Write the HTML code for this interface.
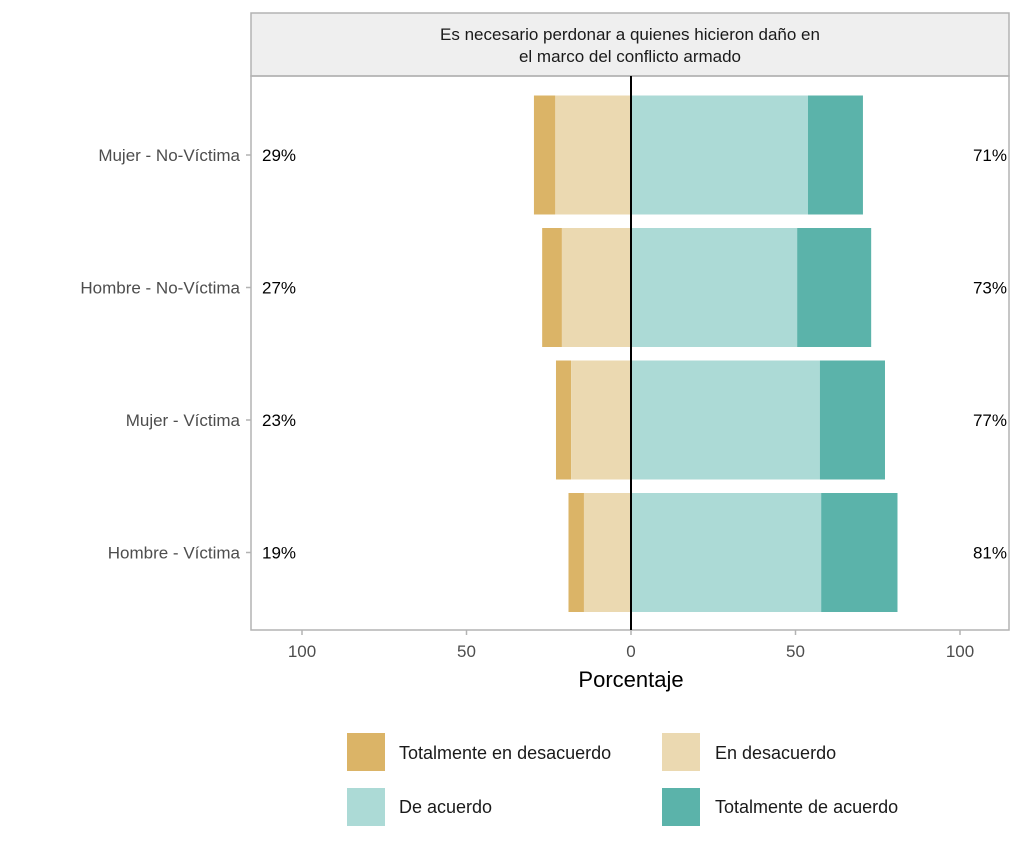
<!DOCTYPE html>
<html><head><meta charset="utf-8"><style>
body{margin:0;background:#fff;font-family:"Liberation Sans",Arial,sans-serif}
svg text{font-family:"Liberation Sans",Arial,sans-serif}
</style></head><body>
<svg id="c" width="1024" height="853" viewBox="0 0 1024 853" xmlns="http://www.w3.org/2000/svg">
<rect x="251" y="13" width="758" height="63" fill="#efefef" stroke="#b3b3b3" stroke-width="1.5"/>
<text x="630" y="40" text-anchor="middle" font-size="17" fill="#1a1a1a">Es necesario perdonar a quienes hicieron daño en</text>
<text x="630" y="62" text-anchor="middle" font-size="17" fill="#1a1a1a">el marco del conflicto armado</text>
<g id="bars"></g>
<rect x="251" y="76" width="758" height="554" fill="none" stroke="#b3b3b3" stroke-width="1.5"/>
<g id="axes"></g>
<text x="631" y="687" text-anchor="middle" font-size="22" fill="#000">Porcentaje</text>
<g>
<rect x="347" y="733" width="38" height="38" fill="#dbb467"/>
<text x="399" y="759" font-size="18" fill="#1a1a1a">Totalmente en desacuerdo</text>
<rect x="662" y="733" width="38" height="38" fill="#ebd9b1"/>
<text x="715" y="759" font-size="18" fill="#1a1a1a">En desacuerdo</text>
<rect x="347" y="788" width="38" height="38" fill="#acdad6"/>
<text x="399" y="813" font-size="18" fill="#1a1a1a">De acuerdo</text>
<rect x="662" y="788" width="38" height="38" fill="#5bb3aa"/>
<text x="715" y="813" font-size="18" fill="#1a1a1a">Totalmente de acuerdo</text>
</g>
</svg>
<script>
const categories=["Mujer - No-Víctima","Hombre - No-Víctima","Mujer - Víctima","Hombre - Víctima"];
const totDesacuerdo=[6.5,6,4.6,4.7];
const desacuerdo=[23,21,18.2,14.3];
const acuerdo=[53.8,50.5,57.4,57.8];
const totAcuerdo=[16.7,22.5,19.8,23.2];
const leftLabels=["29%","27%","23%","19%"];
const rightLabels=["71%","73%","77%","81%"];
const ticks=[-100,-50,0,50,100];
const tickLabels=["100","50","0","50","100"];
const NS="http://www.w3.org/2000/svg";
const x=v=>631+v*3.29;
const y=i=>155+i*132.5;
const bh=119;
const bars=document.getElementById('bars');
const axes=document.getElementById('axes');
function mk(p,tag,a){const e=document.createElementNS(NS,tag);for(const k in a)e.setAttribute(k,a[k]);p.appendChild(e);return e;}
categories.forEach((c,i)=>{
 const cy=y(i);
 const segs=[[-(desacuerdo[i]+totDesacuerdo[i]),-desacuerdo[i],"#dbb467","bar-totalmente-desacuerdo"],
 [-desacuerdo[i],0,"#ebd9b1","bar-desacuerdo"],
 [0,acuerdo[i],"#acdad6","bar-acuerdo"],
 [acuerdo[i],acuerdo[i]+totAcuerdo[i],"#5bb3aa","bar-totalmente-acuerdo"]];
 segs.forEach(s=>{
  const r=mk(bars,'rect',{x:x(s[0]),y:cy-bh/2,width:x(s[1])-x(s[0]),height:bh,fill:s[2]});
  
  
 });
 const l=mk(axes,'text',{x:262,y:cy+6,'font-size':17,fill:'#000'});l.textContent=leftLabels[i];
 
 
 const r=mk(axes,'text',{x:1007,y:cy+6,'font-size':17,fill:'#000','text-anchor':'end'});r.textContent=rightLabels[i];
 
 
 const t=mk(axes,'text',{x:240,y:cy+6,'font-size':17,fill:'#4d4d4d','text-anchor':'end'});t.textContent=c;
 
 
 const tk=mk(axes,'line',{x1:246,x2:251,y1:cy,y2:cy,stroke:'#b3b3b3','stroke-width':1.5});
 
 
});
const zl=mk(axes,'line',{x1:x(0),x2:x(0),y1:76,y2:630,stroke:'#000','stroke-width':2});


ticks.forEach((v,i)=>{
 const tk=mk(axes,'line',{x1:x(v),x2:x(v),y1:630,y2:635,stroke:'#b3b3b3','stroke-width':1.5});
 
 
 const t=mk(axes,'text',{x:x(v),y:657,'font-size':17,fill:'#4d4d4d','text-anchor':'middle'});t.textContent=tickLabels[i];
 
 
});
</script>
</body></html>
